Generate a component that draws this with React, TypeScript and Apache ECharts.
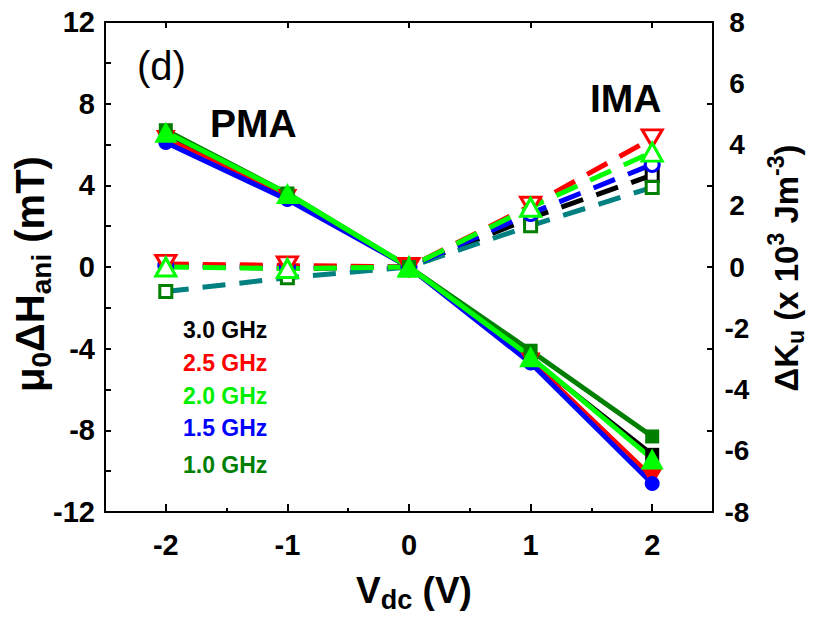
import React, { useEffect, useRef } from 'react';
import * as echarts from 'echarts';

// x values (V_dc, V)
const vdc = [-2, -1, 0, 1, 2];
const freqLabels = ['3.0 GHz', '2.5 GHz', '2.0 GHz', '1.5 GHz', '1.0 GHz'];

// mu0 ΔH_ani (mT), left axis, solid lines
const hAni30 = [6.4, 3.5, 0, -4.5, -9.2];
const hAni25 = [6.3, 3.4, 0, -4.6, -10.3];
const hAni20 = [6.6, 3.6, 0, -4.4, -9.4];
const hAni15 = [6.1, 3.3, 0, -4.7, -10.6];
const hAni10 = [6.7, 3.6, 0, -4.1, -8.3];

// ΔKu (x 10^3 J m^-3), right axis, dashed lines
const ku30 = [0.05, -0.05, 0, 1.6, 3.0];
const ku25 = [0.1, 0.05, 0, 2.0, 4.2];
const ku20 = [0.0, -0.05, 0, 1.95, 3.75];
const ku15 = [0.05, 0.0, 0, 1.75, 3.35];
const ku10 = [-0.8, -0.35, 0, 1.35, 2.6];

const xMajor = [-2, -1, 0, 1, 2];
const xMinor = [-1.5, -0.5, 0.5, 1.5];

const FONT = '"Liberation Sans", Arial, Helvetica, sans-serif';

const pts = (ys: number[]) => vdc.map((x, i) => [x, ys[i]]);

export default function App() {
  const ref = useRef<HTMLDivElement>(null);
  useEffect(() => {
    if (!ref.current) return;
    const chart = echarts.init(ref.current, undefined, { renderer: 'svg' });

    const solid = (name: string, ys: number[], color: string, symbol: string, size: any, rotate = 0) => ({
      name,
      type: 'line',
      yAxisIndex: 0,
      data: pts(ys),
      symbol,
      symbolSize: size,
      symbolRotate: rotate,
      lineStyle: { color, width: 5, type: 'solid' },
      itemStyle: { color, borderColor: color, borderWidth: 0 },
    });
    const dashed = (name: string, ys: number[], color: string, mColor: string, symbol: string, size: any, rotate = 0) => ({
      name,
      type: 'line',
      yAxisIndex: 1,
      data: pts(ys),
      symbol,
      symbolSize: size,
      symbolRotate: rotate,
      lineStyle: { color, width: 5, type: [23, 14] },
      itemStyle: { color: '#ffffff', borderColor: mColor, borderWidth: 3 },
    });

    const tickStyle = { color: '#000', width: 2 };
    const subRich = (main: number, sub: number) => ({
      m: { fontSize: main, fontWeight: 'bold', fontFamily: FONT, lineHeight: main + 10, verticalAlign: 'middle', fill: '#000' },
      s: { fontSize: sub, fontWeight: 'bold', fontFamily: FONT, lineHeight: sub, verticalAlign: 'bottom', fill: '#000' },
      p: { fontSize: sub, fontWeight: 'bold', fontFamily: FONT, lineHeight: sub, verticalAlign: 'top', fill: '#000' },
    });

    const legendColors = ['#000000', '#ff0000', '#00ee00', '#0000ff', '#007f00'];
    const legendY = [330, 363, 396, 428, 465];

    chart.setOption({
      animation: false,
      backgroundColor: '#ffffff',
      grid: { left: 105, right: 100, top: 22, bottom: 105, containLabel: false },
      xAxis: [
        {
          type: 'value', position: 'bottom', min: -2.5, max: 2.5,
          axisLine: { show: true, onZero: false, lineStyle: { color: '#000', width: 2 } },
          axisTick: { show: true, inside: true, length: 8, lineStyle: tickStyle, customValues: xMajor },
          axisLabel: { show: true, customValues: xMajor, margin: 18, fontSize: 29, fontWeight: 'bold', fontFamily: FONT, color: '#000' },
          splitLine: { show: false },
        },
        {
          type: 'value', position: 'bottom', min: -2.5, max: 2.5,
          axisLine: { show: false, onZero: false },
          axisTick: { show: true, inside: true, length: 4, lineStyle: tickStyle, customValues: xMinor },
          axisLabel: { show: false },
          splitLine: { show: false },
        },
        {
          type: 'value', position: 'top', min: -2.5, max: 2.5,
          axisLine: { show: true, onZero: false, lineStyle: { color: '#000', width: 2 } },
          axisTick: { show: true, inside: true, length: 6, lineStyle: tickStyle, customValues: xMajor },
          axisLabel: { show: false },
          splitLine: { show: false },
        },
      ],
      yAxis: [
        {
          type: 'value', position: 'left', min: -12, max: 12, interval: 4,
          axisLine: { show: true, onZero: false, lineStyle: { color: '#000', width: 2 } },
          axisTick: { show: true, inside: true, length: 6, lineStyle: tickStyle },
          minorTick: { show: true, splitNumber: 2, length: 6, lineStyle: tickStyle },
          axisLabel: { margin: 10, fontSize: 29, fontWeight: 'bold', fontFamily: FONT, color: '#000' },
          splitLine: { show: false },
        },
        {
          type: 'value', position: 'right', min: -8, max: 8, interval: 2,
          axisLine: { show: true, onZero: false, lineStyle: { color: '#000', width: 2 } },
          axisTick: { show: false },
          axisLabel: { margin: 24, align: 'center', fontSize: 28, fontWeight: 'bold', fontFamily: FONT, color: '#000' },
          splitLine: { show: false },
        },
        {
          type: 'value', position: 'right', min: -12, max: 12, interval: 4,
          axisLine: { show: false, onZero: false },
          axisTick: { show: true, inside: true, length: 6, lineStyle: tickStyle },
          axisLabel: { show: false },
          splitLine: { show: false },
        },
      ],
      series: [
        dashed('3.0 GHz K', ku30, '#000000', '#000000', 'rect', 12),
        dashed('1.0 GHz K', ku10, '#008080', '#007f00', 'rect', 12),
        dashed('1.5 GHz K', ku15, '#0000ff', '#0000ff', 'circle', 14),
        dashed('2.5 GHz K', ku25, '#ff0000', '#ff0000', 'triangle', [20, 17], 180),
        dashed('2.0 GHz K', ku20, '#00ff00', '#00ff00', 'triangle', [20, 18]),
        solid('3.0 GHz', hAni30, '#000000', 'rect', 14),
        solid('2.5 GHz', hAni25, '#ff0000', 'triangle', [20, 17], 180),
        solid('1.5 GHz', hAni15, '#0000ff', 'circle', 15),
        solid('1.0 GHz', hAni10, '#007f00', 'rect', 14),
        solid('2.0 GHz', hAni20, '#00ff00', 'triangle', [23, 21]),
      ],
      graphic: [
        { type: 'text', x: 137, y: 66, style: { text: '(d)', fontSize: 40, fontFamily: FONT, fill: '#000', align: 'left', verticalAlign: 'middle' } },
        { type: 'text', x: 210, y: 123, style: { text: 'PMA', fontSize: 39, fontWeight: 'bold', fontFamily: FONT, fill: '#000', align: 'left', verticalAlign: 'middle' } },
        { type: 'text', x: 590, y: 98, style: { text: 'IMA', fontSize: 39, fontWeight: 'bold', fontFamily: FONT, fill: '#000', align: 'left', verticalAlign: 'middle' } },
        ...freqLabels.map((t, i) => ({
          type: 'text', x: 183, y: legendY[i],
          style: { text: t, fontSize: 23, fontWeight: 'bold', fontFamily: FONT, fill: legendColors[i], align: 'left', verticalAlign: 'middle' },
        })),
        {
          type: 'text', x: 30, y: 274, rotation: Math.PI / 2,
          style: { text: '{m|μ}{s|0}{m|ΔH}{s|ani}{m| (mT)}', rich: subRich(40, 28), align: 'center', verticalAlign: 'middle', fill: '#000' },
        },
        {
          type: 'text', x: 786, y: 268, rotation: Math.PI / 2,
          style: { text: '{m|ΔK}{s|u}{m| (x 10}{p|3}{m| Jm}{p|-3}{m|)}', rich: subRich(33, 23), align: 'center', verticalAlign: 'middle', fill: '#000' },
        },
        {
          type: 'text', x: 414, y: 590,
          style: { text: '{m|V}{s|dc}{m| (V)}', rich: subRich(37, 27), align: 'center', verticalAlign: 'middle', fill: '#000' },
        },
      ],
    });
    return () => chart.dispose();
  }, []);
  return <div ref={ref} style={{ position: 'fixed', left: 0, top: 0, width: 813, height: 617 }} />;
}
